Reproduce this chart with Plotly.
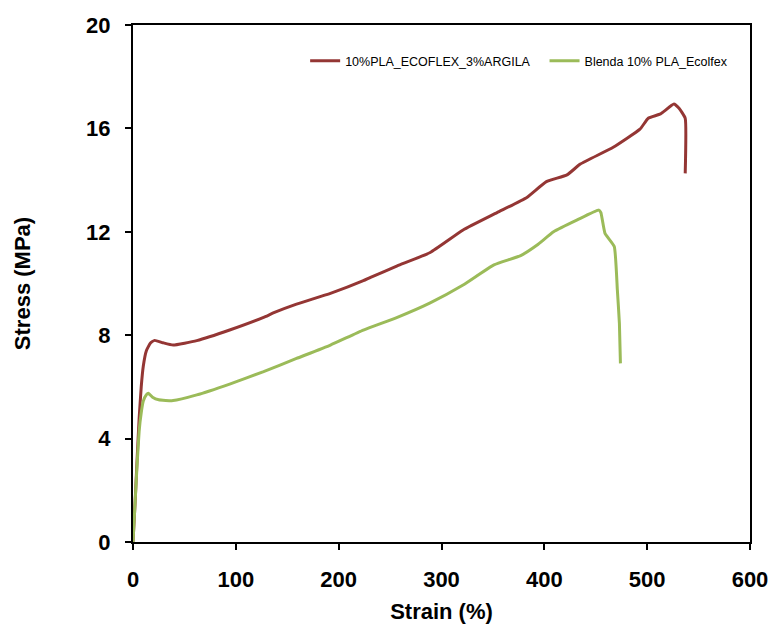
import plotly.graph_objects as go

# Strain (%) / Stress (MPa)
strain_pla_clay = [0, 2, 4, 6, 8, 10, 13, 17, 21, 29, 39, 62, 94, 127, 137, 159, 192, 224, 231,
                   257, 289, 321, 354, 383, 402, 422, 435, 467, 493, 501, 513, 526, 531, 537, 537]
stress_pla_clay = [0, 1.5, 3.2, 4.8, 6.0, 6.8, 7.4, 7.7, 7.8, 7.71, 7.62, 7.79, 8.2, 8.69, 8.87, 9.2,
                   9.62, 10.11, 10.24, 10.68, 11.2, 12.07, 12.74, 13.33, 13.94, 14.2, 14.62, 15.27,
                   15.97, 16.39, 16.56, 16.94, 16.78, 16.39, 14.26]

strain_blend = [0, 2, 4, 6, 8, 10, 13, 15, 19, 25, 39, 62, 94, 127, 159, 192, 224, 257, 289, 321,
                351, 377, 393, 409, 432, 453, 455, 459, 468, 471, 473, 474]
stress_blend = [0, 1.5, 3.0, 4.3, 5.0, 5.45, 5.7, 5.75, 5.6, 5.5, 5.47, 5.69, 6.11, 6.59, 7.1, 7.62,
                8.2, 8.69, 9.25, 9.94, 10.72, 11.08, 11.49, 12.0, 12.46, 12.84, 12.74, 11.94,
                11.43, 9.75, 8.46, 6.91]

series_names = ["10%PLA_ECOFLEX_3%ARGILA", "Blenda 10% PLA_Ecolfex"]
series_colors = ["#943634", "#9BBB59"]

x_ticks = [0, 100, 200, 300, 400, 500, 600]
y_ticks = [0, 4, 8, 12, 16, 20]

fig = go.Figure()
for xs, ys, name, color, lg in [(strain_pla_clay, stress_pla_clay, series_names[0], series_colors[0], "legend"),
                                (strain_blend, stress_blend, series_names[1], series_colors[1], "legend2")]:
    fig.add_trace(go.Scatter(x=xs, y=ys, mode="lines", name=name, legend=lg,
                             line=dict(color=color, width=3, shape="spline", smoothing=0.4)))

bold = dict(family="Liberation Sans, Arial, sans-serif", size=22, color="black", weight="bold")
legend_font = dict(family="Liberation Sans, Arial, sans-serif", size=12.5, color="black")

fig.update_layout(
    width=769, height=635,
    margin=dict(l=133, r=19, t=25, b=93),
    paper_bgcolor="white", plot_bgcolor="white",
    showlegend=True,
    legend=dict(orientation="h", x=0.279, y=0.930, xanchor="left", yanchor="middle",
                font=legend_font, bgcolor="rgba(0,0,0,0)", itemwidth=30),
    legend2=dict(orientation="h", x=0.667, y=0.930, xanchor="left", yanchor="middle",
                 font=legend_font, bgcolor="rgba(0,0,0,0)", itemwidth=30),
    xaxis=dict(range=[0, 600], tickvals=x_ticks, showgrid=False, zeroline=False,
               showline=True, linecolor="black", linewidth=2, mirror=True,
               ticks="outside", ticklen=6, tickwidth=2, tickcolor="black",
               tickfont=bold, ticklabelstandoff=11, automargin=False,
               title=dict(text="Strain (%)", font=bold, standoff=12)),
    yaxis=dict(range=[0, 20], tickvals=y_ticks, showgrid=False, zeroline=False,
               showline=True, linecolor="black", linewidth=2, mirror=True,
               ticks="outside", ticklen=6, tickwidth=2, tickcolor="black",
               tickfont=bold, ticklabelstandoff=10, automargin=False,
               title=dict(text="Stress (MPa)", font=bold, standoff=49)),
)

fig.write_html("out.html")
